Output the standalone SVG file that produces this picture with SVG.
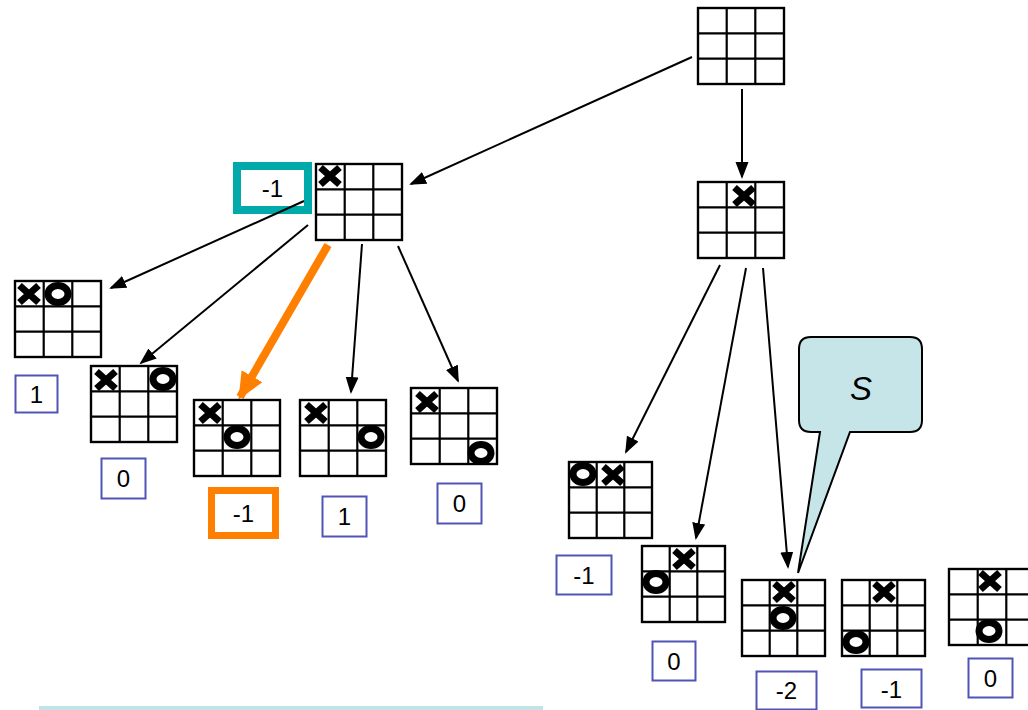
<svg xmlns="http://www.w3.org/2000/svg" width="1028" height="710" viewBox="0 0 1028 710">
<style>
.grid rect,.grid line{fill:none;stroke:#000;stroke-width:2.2}
.gbg{fill:#fff}
.x{stroke:#000;stroke-width:7;fill:none}
.o{stroke:#000;stroke-width:7;fill:#fff}
.lbl{fill:#fff;stroke:#4f54b6;stroke-width:2}
.t{font-family:"Liberation Sans",Arial,sans-serif;font-size:24px;fill:#000;text-anchor:middle}
.edge{stroke:#000;stroke-width:2;fill:none;marker-end:url(#ah)}
.edgeO{stroke:#ff7f00;stroke-width:8;fill:none;marker-end:url(#aho)}
</style>
<defs>
<g id="gridL" class="grid"><rect class="gbg" x="0" y="0" width="86" height="76"/><rect x="0" y="0" width="86" height="76"/><line x1="28.7" y1="0" x2="28.7" y2="76"/><line x1="57.3" y1="0" x2="57.3" y2="76"/><line x1="0" y1="25.3" x2="86" y2="25.3"/><line x1="0" y1="50.7" x2="86" y2="50.7"/></g>
<g id="gridS" class="grid"><rect class="gbg" x="0" y="0" width="83" height="76"/><rect x="0" y="0" width="83" height="76"/><line x1="27.7" y1="0" x2="27.7" y2="76"/><line x1="55.3" y1="0" x2="55.3" y2="76"/><line x1="0" y1="25.3" x2="83" y2="25.3"/><line x1="0" y1="50.7" x2="83" y2="50.7"/></g>
<path id="X" class="x" d="M-9.5,-8.5 L9.5,8.5 M9.5,-8.5 L-9.5,8.5"/>
<ellipse id="O" class="o" cx="0" cy="0" rx="10" ry="8.5"/>
<marker id="ah" markerUnits="userSpaceOnUse" markerWidth="18" markerHeight="14" refX="15" refY="6.5" orient="auto"><path d="M0,0 L17,6.5 L0,13 z" fill="#000"/></marker>
<marker id="aho" markerUnits="userSpaceOnUse" markerWidth="28" markerHeight="26" refX="24" refY="12" orient="auto"><path d="M0,0 L27,12 L0,24 z" fill="#ff7f00"/></marker>
</defs>

<g id="score-root-left">
<rect x="237" y="166" width="71" height="44" fill="#fff" stroke="#00aaaa" stroke-width="8"/>
<text class="t" x="272.5" y="196.5">-1</text>
</g>

<g id="connectors">
<line class="edge" x1="692" y1="57" x2="411" y2="184"/>
<line class="edge" x1="742" y1="89" x2="742" y2="177"/>
<line class="edge" x1="304" y1="201" x2="111" y2="288"/>
<line class="edge" x1="308" y1="225" x2="141" y2="363"/>
<line class="edgeO" x1="328" y1="245" x2="240" y2="397"/>
<line class="edge" x1="362" y1="244" x2="351" y2="392"/>
<line class="edge" x1="398" y1="246" x2="458" y2="381"/>
<line class="edge" x1="720" y1="265" x2="626" y2="452"/>
<line class="edge" x1="746" y1="268" x2="696" y2="538"/>
<line class="edge" x1="763" y1="268" x2="788" y2="567"/>
</g>

<g id="root"><use href="#gridL" transform="translate(698,8)"/></g>

<g id="left-child"><use href="#gridL" transform="translate(316,164)"/><use href="#X" x="330" y="176"/></g>

<g id="right-child"><use href="#gridL" transform="translate(698,182)"/><use href="#X" x="744" y="196"/></g>

<g id="leaf-l1"><use href="#gridL" transform="translate(15,281)"/><use href="#X" x="29" y="294"/><use href="#O" x="58" y="294"/>
<rect class="lbl" x="15.5" y="375.5" width="42" height="37"/><text class="t" x="36.5" y="402.5">1</text></g>

<g id="leaf-l2"><use href="#gridL" transform="translate(91,366)"/><use href="#X" x="106" y="380"/><use href="#O" x="163" y="379"/>
<rect class="lbl" x="101.5" y="458.5" width="44" height="40"/><text class="t" x="123.5" y="487">0</text></g>

<g id="leaf-l3"><use href="#gridL" transform="translate(194,400)"/><use href="#X" x="210" y="413"/><use href="#O" x="237" y="437"/>
<rect x="211.5" y="490.5" width="64" height="45" fill="#fff" stroke="#ff7f00" stroke-width="7"/><text class="t" x="243.5" y="521.5">-1</text></g>

<g id="leaf-l4"><use href="#gridL" transform="translate(300,400)"/><use href="#X" x="316" y="413"/><use href="#O" x="371" y="437"/>
<rect class="lbl" x="322.5" y="496.5" width="44" height="40"/><text class="t" x="344.5" y="525">1</text></g>

<g id="leaf-l5"><use href="#gridL" transform="translate(411,388)"/><use href="#X" x="427" y="402"/><use href="#O" x="481" y="453"/>
<rect class="lbl" x="437.5" y="483.5" width="44" height="40"/><text class="t" x="459.5" y="512">0</text></g>

<g id="leaf-r1"><use href="#gridS" transform="translate(569,462)"/><use href="#O" x="583" y="474"/><use href="#X" x="613" y="475"/>
<rect class="lbl" x="556.5" y="555.5" width="55" height="39"/><text class="t" x="584" y="583.5">-1</text></g>

<g id="leaf-r2"><use href="#gridS" transform="translate(642,546)"/><use href="#X" x="684" y="559"/><use href="#O" x="656" y="582"/>
<rect class="lbl" x="652.5" y="641.5" width="43" height="39"/><text class="t" x="674" y="669.5">0</text></g>

<g id="leaf-r3"><use href="#gridS" transform="translate(742,580)"/><use href="#X" x="784" y="592"/><use href="#O" x="783" y="618"/>
<rect class="lbl" x="756.5" y="671.5" width="60" height="38"/><text class="t" x="786.5" y="699">-2</text></g>

<g id="leaf-r4"><use href="#gridS" transform="translate(842,580)"/><use href="#X" x="884" y="592"/><use href="#O" x="856" y="642"/>
<rect class="lbl" x="861.5" y="669.5" width="60" height="38"/><text class="t" x="891.5" y="697.5">-1</text></g>

<g id="leaf-r5"><use href="#gridL" transform="translate(949,569)"/><use href="#X" x="990" y="581"/><use href="#O" x="989" y="631"/>
<rect class="lbl" x="968.5" y="658.5" width="44" height="39"/><text class="t" x="990.5" y="686.5">0</text></g>

<g id="callout-s">
<path d="M811,337 H910 Q922,337 922,349 V420 Q922,432 910,432 H850 L798,573 L820,432 H811 Q799,432 799,420 V349 Q799,337 811,337 Z" fill="#c5e5e8" stroke="#000" stroke-width="2"/>
<text x="861" y="400" font-family="Liberation Sans,Arial,sans-serif" font-size="33" font-style="italic" text-anchor="middle">S</text>
</g>

<rect x="39" y="706" width="504" height="4" fill="#c2e4e6"/>
</svg>
